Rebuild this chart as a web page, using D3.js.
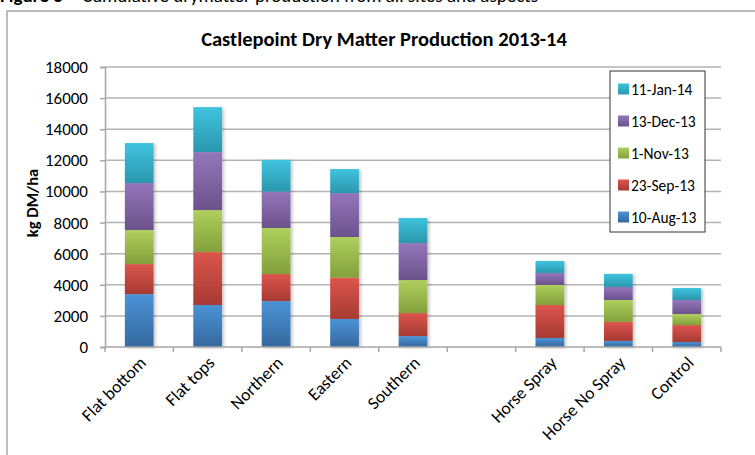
<!DOCTYPE html>
<html>
<head>
<meta charset="utf-8">
<script src="https://cdn.jsdelivr.net/npm/d3@7"></script>
<style>
  html, body { margin: 0; padding: 0; background: #fff; }
  svg { display: block; font-family: Carlito, Calibri, Lato, "Open Sans", sans-serif; }
</style>
</head>
<body>
<svg id="chart" width="755" height="455"></svg>
<script>
// Sites / aspects (an empty slot separates the hill aspects from the horse trial)
const categories = ["Flat bottom", "Flat tops", "Northern", "Eastern", "Southern", "", "Horse Spray", "Horse No Spray", "Control"];

// Dry matter grown in each measurement period (kg DM/ha), stacked cumulatively
const aug10 = [3400, 2700, 2950, 1800, 700, 0, 580, 390, 320];
const sep23 = [1930, 3400, 1740, 2660, 1480, 0, 2120, 1220, 1090];
const nov1  = [2190, 2700, 2960, 2610, 2120, 0, 1290, 1410, 710];
const dec13 = [3020, 3730, 2340, 2830, 2380, 0, 770, 840, 900];
const jan11 = [2570, 2890, 2040, 1540, 1610, 0, 770, 840, 770];

const seriesNames = ["10-Aug-13", "23-Sep-13", "1-Nov-13", "13-Dec-13", "11-Jan-14"];
const yTicks = [0, 2000, 4000, 6000, 8000, 10000, 12000, 14000, 16000, 18000];

// gradient stops: [top, bottom]
const seriesColors = [
  ["#4b93d6", "#35689e"],
  ["#dc554c", "#a63a33"],
  ["#afcf5d", "#83a03c"],
  ["#9476ba", "#6b528c"],
  ["#3fc3df", "#2a97ad"]
];

const seriesValues = [aug10, sep23, nov1, dec13, jan11];
const rows = categories.map((c, i) => {
  const r = { cat: c, key: "c" + i };
  seriesNames.forEach((s, j) => r[s] = seriesValues[j][i]);
  return r;
});

const svg = d3.select("#chart");
const margin = { left: 105, right: 34, top: 67, bottom: 108 };
const W = 755, H = 455;

// outer chart frame
svg.append("rect")
  .attr("x", 7).attr("y", 11).attr("width", 760).attr("height", 470)
  .attr("fill", "#fff").attr("stroke", "#a6a6a6").attr("stroke-width", 1.5);

// figure caption above the frame
const cap = svg.append("text").attr("x", 0).attr("y", 2).attr("font-size", 19).attr("fill", "#000");
cap.append("tspan").attr("font-weight", "bold").text("Figure 3");
cap.append("tspan").attr("x", 82).text("Cumulative drymatter production from all sites and aspects");

const x = d3.scaleBand()
  .domain(rows.map(r => r.key))
  .range([margin.left, W - margin.right])
  .paddingInner(0.58).paddingOuter(0.29);

const y = d3.scaleLinear().domain([0, 18000]).range([H - margin.bottom, margin.top]);

const defs = svg.append("defs");
seriesColors.forEach((c, i) => {
  const g = defs.append("linearGradient").attr("id", "grad" + i)
    .attr("x1", 0).attr("y1", 0).attr("x2", 0).attr("y2", 1);
  g.append("stop").attr("offset", "0%").attr("stop-color", c[0]);
  g.append("stop").attr("offset", "100%").attr("stop-color", c[1]);
});
const shadow = defs.append("filter").attr("id", "shadow")
  .attr("x", "-10%").attr("y", "-10%").attr("width", "120%").attr("height", "120%");
shadow.append("feDropShadow").attr("dx", 2).attr("dy", 1).attr("stdDeviation", 1.5)
  .attr("flood-color", "#000").attr("flood-opacity", 0.22);

// gridlines
svg.append("g")
  .selectAll("line").data(yTicks.filter(t => t > 0)).join("line")
  .attr("x1", margin.left).attr("x2", W - margin.right)
  .attr("y1", d => y(d)).attr("y2", d => y(d))
  .attr("stroke", "#b3b3b3").attr("stroke-width", 1.5);

// y axis
const yAxis = svg.append("g")
  .attr("transform", `translate(${margin.left},0)`)
  .call(d3.axisLeft(y).tickValues(yTicks).tickSize(5).tickPadding(12).tickFormat(d3.format("d")));
yAxis.select(".domain").attr("stroke", "#a6a6a6").attr("stroke-width", 1.5);
yAxis.selectAll(".tick line").attr("stroke", "#a6a6a6").attr("stroke-width", 1.5);
yAxis.selectAll("text").attr("font-size", 17).attr("fill", "#000")
  .attr("font-family", "Carlito, Calibri, Lato, sans-serif");

// stacked bars
const stack = d3.stack().keys(seriesNames)(rows);
svg.append("g").attr("filter", "url(#shadow)")
  .selectAll("g").data(stack).join("g")
  .attr("fill", (d, i) => `url(#grad${i})`)
  .selectAll("rect").data(d => d.filter(p => p[1] > p[0])).join("rect")
  .attr("x", d => x(d.data.key))
  .attr("width", x.bandwidth())
  .attr("y", d => y(d[1]))
  .attr("height", d => y(d[0]) - y(d[1]));

// x axis with ticks between categories
const xAxisG = svg.append("g");
xAxisG.append("line")
  .attr("x1", margin.left).attr("x2", W - margin.right)
  .attr("y1", y(0)).attr("y2", y(0))
  .attr("stroke", "#a6a6a6").attr("stroke-width", 1.5);
xAxisG.selectAll("line.tk").data(d3.range(categories.length + 1)).join("line")
  .attr("class", "tk")
  .attr("x1", i => margin.left + i * (W - margin.left - margin.right) / categories.length)
  .attr("x2", i => margin.left + i * (W - margin.left - margin.right) / categories.length)
  .attr("y1", y(0)).attr("y2", y(0) + 5)
  .attr("stroke", "#a6a6a6").attr("stroke-width", 1.5);

xAxisG.selectAll("text").data(rows.filter(r => r.cat)).join("text")
  .attr("transform", r => `translate(${x(r.key) + x.bandwidth() / 2 + 5},${y(0) + 14}) rotate(-45)`)
  .attr("text-anchor", "end")
  .attr("dominant-baseline", "middle")
  .attr("font-size", 17.5)
  .attr("fill", "#000")
  .text(r => r.cat);

// title
svg.append("text")
  .attr("x", 384).attr("y", 46)
  .attr("text-anchor", "middle")
  .attr("font-size", 20.5).attr("font-weight", "bold")
  .text("Castlepoint Dry Matter Production 2013-14");

// y axis title
svg.append("text")
  .attr("transform", `translate(38,${(y(0) + y(18000)) / 2 - 4}) rotate(-90)`)
  .attr("text-anchor", "middle")
  .attr("font-size", 16.5).attr("font-weight", "bold")
  .text("kg DM/ha");

// legend, newest period on top
const legend = svg.append("g");
legend.append("rect")
  .attr("x", 610).attr("y", 71).attr("width", 95).attr("height", 161)
  .attr("fill", "#fff").attr("stroke", "#333").attr("stroke-width", 1);
const legendItems = seriesNames.map((s, i) => ({ s, i })).reverse();
const li = legend.selectAll("g.item").data(legendItems).join("g")
  .attr("class", "item")
  .attr("transform", (d, k) => `translate(618,${89 + k * 32})`);
li.append("rect").attr("x", 0).attr("y", -5.5).attr("width", 11).attr("height", 11)
  .attr("fill", d => `url(#grad${d.i})`);
li.append("text").attr("x", 13).attr("y", 0)
  .attr("dominant-baseline", "central")
  .attr("font-size", 15.5)
  .text(d => d.s);
</script>
</body>
</html>
